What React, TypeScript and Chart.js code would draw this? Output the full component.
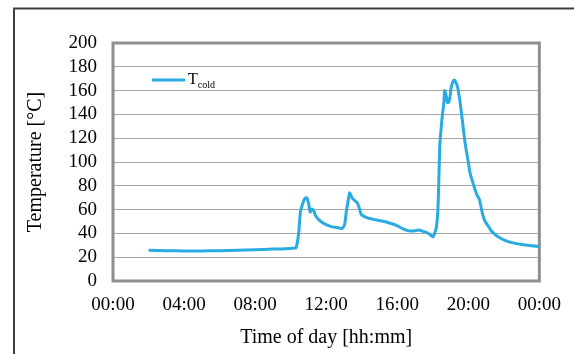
import React, { useEffect, useRef } from "react";
import { Chart, registerables } from "chart.js";

Chart.register(...registerables);

// Time of day in hours (0 = 00:00, 24 = next 00:00)
const hours = [
  2.0, 3.0, 4.0, 5.0, 6.0, 7.0, 8.0, 9.0, 10.0, 10.3,
  10.45, 10.55, 10.7, 10.8, 10.9, 11.0, 11.1, 11.2, 11.3, 11.4,
  11.55, 11.8, 12.1, 12.35, 12.57, 12.75, 12.85, 12.95, 13.04, 13.13,
  13.22, 13.32, 13.42, 13.5, 13.62, 13.74, 13.85, 13.97, 14.25, 14.6,
  14.9, 15.27, 15.5, 15.83, 16.05, 16.3, 16.55, 16.76, 17.0, 17.22,
  17.4, 17.6, 17.8, 18.02, 18.1, 18.2, 18.29, 18.35, 18.4, 18.47,
  18.53, 18.62, 18.67, 18.75, 18.82, 18.9, 18.97, 19.04, 19.12, 19.21,
  19.3, 19.4, 19.52, 19.64, 19.76, 19.88, 20.0, 20.1, 20.25, 20.38,
  20.5, 20.63, 20.72, 20.81, 20.95, 21.13, 21.3, 21.5, 21.75, 22.06,
  22.4, 22.71, 23.0, 23.36, 23.7, 24.0,
];

// T_cold temperature [°C]
const tCold = [
  25.8, 25.5, 25.2, 25.3, 25.5, 25.8, 26.3, 26.8, 27.4, 28,
  40, 58, 66, 69.5, 70, 66, 58, 60.5, 59, 55,
  52, 49, 46.7, 45.5, 45, 44.5, 44, 45, 47.5, 58,
  66, 74, 71, 69, 67.5, 66, 62, 56, 53.5, 52,
  51, 50, 49, 47.5, 46, 44, 42.5, 42, 42.3, 42.8,
  42, 41, 39.5, 37, 40, 44.7, 60, 90, 115, 128,
  138, 149, 160, 156, 150, 150.3, 155, 162.8, 167, 168.9,
  167, 162.8, 152, 138, 123, 110, 100, 90.6, 83, 76.7,
  72, 68.3, 62, 55.8, 50, 46, 42, 39.2, 36.5, 34.2,
  32.5, 31.4, 30.6, 30, 29.4, 28.9,
];

const xMin = 0;
const xMax = 24;
const xStep = 4;
const yMin = 0;
const yMax = 200;
const yStep = 20;

const legendMain = "T";
const legendSub = "cold";
const xTitle = "Time of day [hh:mm]";
const yTitle = "Temperature [°C]";

const W = 574;
const H = 354;
const FONT = "'Liberation Serif', 'Times New Roman', serif";
const LINE_COLOR = "rgb(41,171,226)";
const FS = 19;
const FS_TITLE = 20;

const fmtHour = (v: number) => String(Math.round(v) % 24).padStart(2, "0") + ":00";

const decorPlugin = {
  id: "decor",
  beforeDraw(chart: any) {
    const ctx = chart.ctx;
    ctx.save();
    ctx.fillStyle = "#ffffff";
    ctx.fillRect(0, 0, chart.width, chart.height);
    ctx.strokeStyle = "#404040";
    ctx.lineWidth = 2;
    ctx.beginPath();
    ctx.moveTo(14, chart.height);
    ctx.lineTo(14, 8.5);
    ctx.lineTo(chart.width, 8.5);
    ctx.stroke();
    ctx.restore();
  },
  beforeDatasetsDraw(chart: any) {
    const { ctx, chartArea: a } = chart;
    ctx.save();
    ctx.strokeStyle = "#8f8f8f";
    ctx.lineWidth = 3;
    ctx.strokeRect(a.left, a.top, a.right - a.left, a.bottom - a.top);
    ctx.restore();
  },
  afterDraw(chart: any) {
    const ctx = chart.ctx;
    ctx.save();
    ctx.strokeStyle = LINE_COLOR;
    ctx.lineWidth = 3;
    ctx.beginPath();
    ctx.moveTo(152, 80);
    ctx.lineTo(185, 80);
    ctx.stroke();
    ctx.fillStyle = "#000";
    ctx.textBaseline = "alphabetic";
    ctx.textAlign = "left";
    ctx.font = `16px ${FONT}`;
    ctx.fillText(legendMain, 188, 84);
    const tw = ctx.measureText(legendMain).width;
    ctx.font = `10px ${FONT}`;
    ctx.fillText(legendSub, 188 + tw, 88);
    ctx.restore();
  },
};

export default function App() {
  const ref = useRef<HTMLCanvasElement>(null);

  useEffect(() => {
    if (!ref.current) return;
    const data = hours.map((h, i) => ({ x: h, y: tCold[i] }));
    const chart = new Chart(ref.current, {
      type: "line",
      data: {
        datasets: [
          {
            label: legendMain + legendSub,
            data,
            borderColor: LINE_COLOR,
            backgroundColor: LINE_COLOR,
            borderWidth: 3,
            pointRadius: 0,
            tension: 0.2,
            fill: false,
          },
        ],
      },
      options: {
        responsive: false,
        animation: false,
        layout: { padding: { top: 43, right: 31, left: 0, bottom: 0 } },
        plugins: { legend: { display: false }, tooltip: { enabled: false } },
        scales: {
          x: {
            type: "linear",
            min: xMin,
            max: xMax,
            afterFit: (s: any) => {
              s.height = H - 281;
            },
            grid: { display: false, drawTicks: false },
            border: { display: false },
            ticks: {
              stepSize: xStep,
              padding: 13,
              autoSkip: false,
              color: "#000",
              font: { family: FONT, size: FS },
              callback: (v: any) => fmtHour(Number(v)),
              maxRotation: 0,
            },
            title: {
              display: true,
              text: xTitle,
              color: "#000",
              font: { family: FONT, size: FS_TITLE },
              padding: { top: 0, bottom: 4 },
            },
          },
          y: {
            min: yMin,
            max: yMax,
            afterFit: (s: any) => {
              s.width = 113;
            },
            grid: { color: "#a6a6a6", lineWidth: 1, drawTicks: false },
            border: { display: false },
            ticks: {
              stepSize: yStep,
              padding: 16,
              autoSkip: false,
              color: "#000",
              font: { family: FONT, size: FS },
            },
            title: {
              display: true,
              text: yTitle,
              color: "#000",
              font: { family: FONT, size: FS_TITLE },
              padding: { top: 24, bottom: 0 },
            },
          },
        },
      },
      plugins: [decorPlugin],
    });
    return () => chart.destroy();
  }, []);

  return (
    <div style={{ position: "absolute", left: 0, top: 0, width: W, height: H }}>
      <canvas ref={ref} width={W} height={H} style={{ display: "block" }} />
    </div>
  );
}
